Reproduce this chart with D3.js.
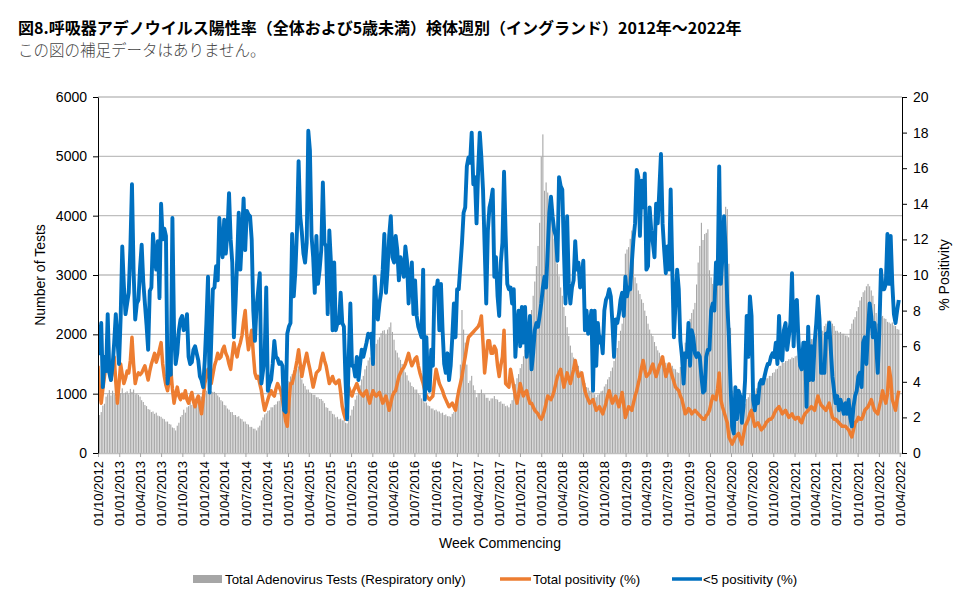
<!DOCTYPE html>
<html lang="ja">
<head>
<meta charset="UTF-8">
<title>図8</title>
<style>
  body { margin: 0; background: #fff; }
  .tick text { font-family: "Liberation Sans", Arial, sans-serif; fill: #000; }
</style>
</head>
<body>
<div id="chart"></div>
<script src="https://d3js.org/d3.v7.min.js"></script>
<script>
// weekly data starting week commencing 01/10/2012
const weekStart = new Date(Date.UTC(2012, 9, 1));

// Total Adenovirus Tests (Respiratory only), one row per quarter (13 weeks)
const testsTotal = [
  560, 640, 690, 800, 830, 950, 990, 1060, 970, 1050, 990, 940, 990,
  1060, 1010, 1090, 1000, 1020, 1040, 990, 1080, 1030, 1070, 990, 1000, 980,
  950, 890, 860, 810, 790, 740, 730, 690, 700, 660, 680, 630, 620,
  610, 580, 570, 530, 530, 490, 480, 430, 420, 380, 460, 510, 610,
  640, 730, 680, 770, 790, 850, 810, 870, 870, 910, 920, 960, 950,
  990, 1000, 1050, 1020, 1070, 1040, 1030, 1030, 1010, 970, 940, 890, 870,
  810, 800, 750, 730, 690, 690, 640, 640, 610, 620, 580, 570, 530,
  530, 490, 480, 440, 440, 410, 410, 380, 430, 460, 550, 600, 650,
  670, 710, 720, 770, 770, 810, 820, 870, 880, 930, 940, 1010, 1090,
  1160, 1210, 1290, 1330, 1390, 1440, 1410, 1460, 1320, 1240, 1170, 1130, 1070,
  1070, 1020, 1010, 980, 980, 940, 940, 910, 910, 880, 840, 770, 760,
  710, 710, 660, 650, 600, 610, 570, 580, 550, 550, 510, 500, 570,
  630, 730, 790, 900, 970, 1070, 1140, 1240, 1300, 1410, 1470, 1560, 1610,
  1690, 1730, 1810, 1840, 1910, 1950, 2020, 2060, 2070, 1990, 2080, 2120, 2200,
  2040, 1910, 1730, 1690, 1610, 1570, 1500, 1450, 1360, 1310, 1220, 1190, 1130,
  1110, 1070, 1070, 1000, 980, 920, 900, 850, 850, 800, 790, 750, 750,
  720, 730, 700, 700, 670, 680, 640, 650, 620, 620, 610, 660, 690,
  730, 790, 1070, 1490, 2410, 2080, 1860, 1490, 1180, 1220, 1300, 1140, 1060,
  940, 1010, 1010, 1070, 1000, 990, 930, 930, 880, 920, 920, 960, 910,
  900, 860, 870, 830, 830, 790, 800, 770, 830, 890, 1010, 1160, 1260,
  1330, 1430, 1500, 1630, 1740, 1890, 2010, 2200, 2410, 2650, 2890, 3150, 3490,
  3880, 4990, 5370, 4420, 4560, 4390, 4280, 4040, 3830, 3610, 3430, 3190, 2980,
  2790, 2650, 2460, 2310, 2120, 1970, 1810, 1690, 1610, 1580, 1500, 1470, 1390,
  1350, 1240, 1180, 1110, 1100, 1050, 1040, 990, 990, 940, 980, 990, 1040,
  1050, 1120, 1160, 1240, 1280, 1380, 1440, 1550, 1610, 1770, 1890, 2060, 2180,
  2710, 3360, 3430, 3470, 3610, 3750, 3310, 2960, 2860, 2740, 2680, 2590, 2530,
  2400, 2310, 2180, 2080, 2010, 1970, 1870, 1800, 1730, 1690, 1630, 1610, 1550,
  1520, 1490, 1500, 1460, 1470, 1420, 1410, 1360, 1350, 1450, 1610, 1710, 1860,
  2010, 2200, 2260, 2360, 2420, 2530, 2840, 3210, 3490, 3880, 3590, 3690, 3710,
  3770, 3080, 2960, 2850, 2910, 2920, 2960, 2960, 3410, 3860, 4010, 4150, 4110,
  3190, 2110, 1050, 710, 490, 530, 550, 650, 710, 790, 830, 910, 940,
  990, 990, 1040, 1050, 1090, 1100, 1150, 1160, 1210, 1210, 1260, 1260, 1300,
  1300, 1350, 1360, 1410, 1420, 1470, 1470, 1520, 1520, 1550, 1550, 1580, 1580,
  1610, 1600, 1630, 1640, 1690, 1700, 1750, 1760, 1810, 1820, 1860, 1870, 1920,
  1920, 1970, 1980, 2020, 2030, 2070, 2060, 2140, 2180, 2230, 2240, 2230, 2180,
  2140, 2060, 2060, 2030, 2040, 2010, 2010, 1980, 1980, 1950, 2090, 2180, 2250,
  2290, 2390, 2460, 2570, 2630, 2710, 2740, 2810, 2850, 2810, 2740, 2650, 2510,
  2360, 2180, 2260, 2290, 2310, 2270, 2260, 2210, 2200, 2180, 2200, 2150, 2140,
  2090, 2080
];

// Total positivity (%)
const positivityAll = [
  4.9, 3.4, 2.8, 3.6, 4.3, 5.1, 5.8, 4.6, 4.1, 4.8, 5.4, 4.0, 2.8,
  3.9, 5.0, 4.4, 3.9, 4.2, 4.6, 4.5, 5.2, 6.5, 5.0, 3.9, 4.3, 4.5,
  4.4, 4.5, 4.7, 4.9, 4.5, 4.1, 4.6, 5.0, 5.3, 5.6, 5.1, 5.4, 5.8,
  6.2, 5.0, 4.3, 3.8, 3.5, 4.1, 4.7, 3.6, 2.8, 3.3, 3.7, 3.2, 3.0,
  3.3, 3.1, 3.5, 3.0, 2.8, 3.1, 3.4, 2.9, 2.6, 3.0, 3.2, 2.7, 2.2,
  3.0, 3.9, 4.3, 4.7, 4.2, 3.9, 4.4, 4.9, 5.2, 5.6, 5.3, 5.4, 5.8,
  6.0, 5.6, 5.4, 5.0, 4.7, 5.5, 6.2, 5.7, 5.4, 5.9, 6.2, 6.6, 7.4,
  8.0, 6.6, 5.8, 6.3, 6.9, 5.6, 4.5, 4.2, 4.3, 3.9, 3.5, 2.9, 2.4,
  2.7, 3.0, 3.3, 3.5, 3.3, 3.2, 3.6, 3.9, 3.7, 3.5, 3.0, 2.4, 1.8,
  1.5, 2.8, 3.9, 3.9, 4.3, 4.7, 5.2, 5.8, 5.0, 4.3, 4.8, 5.2, 5.6,
  5.1, 4.7, 4.2, 3.7, 4.1, 4.5, 4.6, 4.7, 5.2, 5.6, 5.2, 4.9, 4.4,
  3.9, 4.1, 4.3, 4.0, 3.9, 4.0, 4.1, 3.4, 2.6, 2.2, 1.9, 2.9, 3.7,
  3.4, 3.2, 3.5, 3.7, 3.9, 3.6, 3.4, 3.3, 3.2, 3.4, 3.5, 3.1, 2.8,
  3.2, 3.5, 3.3, 3.2, 3.3, 3.4, 3.1, 2.8, 3.0, 3.2, 2.8, 2.4, 2.8,
  3.2, 3.4, 3.5, 3.9, 4.3, 4.5, 4.7, 4.8, 5.0, 5.3, 5.6, 5.2, 4.9,
  5.1, 5.3, 5.4, 4.9, 4.5, 4.2, 3.9, 3.5, 3.2, 3.1, 3.0, 3.1, 3.2,
  4.0, 4.7, 4.3, 3.9, 3.7, 3.5, 3.2, 3.0, 2.8, 2.6, 2.7, 2.8, 2.6,
  2.4, 3.0, 3.5, 3.9, 4.3, 4.9, 5.4, 6.0, 6.5, 6.6, 6.7, 6.8, 6.9,
  7.0, 7.1, 7.3, 7.7, 6.2, 4.5, 5.4, 6.3, 6.3, 5.6, 5.6, 6.0, 5.8,
  4.9, 4.3, 4.9, 5.4, 6.9, 3.9, 3.8, 3.7, 4.7, 4.2, 3.7, 3.2, 2.8,
  3.3, 3.9, 3.5, 3.2, 3.4, 3.5, 3.1, 2.8, 2.8, 2.6, 2.4, 2.3, 2.2,
  2.0, 1.9, 2.1, 2.4, 2.8, 3.2, 3.1, 3.0, 3.2, 3.5, 3.9, 4.3, 4.5,
  4.7, 4.2, 3.7, 4.1, 4.5, 4.2, 3.9, 4.3, 4.7, 5.2, 4.7, 4.3, 4.4,
  4.5, 4.0, 3.5, 3.2, 3.0, 2.8, 2.9, 3.0, 2.7, 2.4, 2.5, 2.6, 2.4,
  2.2, 2.5, 2.8, 3.2, 3.5, 3.1, 2.8, 3.0, 3.2, 2.9, 2.6, 3.0, 3.4,
  2.7, 2.0, 2.3, 2.6, 2.5, 2.4, 2.8, 3.2, 3.5, 3.9, 4.3, 4.8, 5.2,
  4.7, 4.3, 4.4, 4.5, 4.8, 5.0, 4.6, 4.3, 4.6, 4.9, 5.1, 5.4, 4.8,
  4.3, 4.6, 5.0, 4.6, 4.3, 4.0, 3.7, 3.6, 3.5, 3.2, 3.0, 2.6, 2.2,
  2.3, 2.5, 2.4, 2.2, 2.3, 2.4, 2.3, 2.2, 2.1, 2.0, 1.9, 1.9, 2.1,
  2.2, 2.4, 2.8, 3.2, 3.1, 3.0, 3.6, 4.5, 3.0, 2.6, 2.3, 2.0, 1.7,
  0.9, 0.7, 0.5, 0.7, 0.9, 1.0, 1.1, 0.8, 0.5, 1.0, 1.5, 1.7, 1.9,
  2.2, 2.4, 1.9, 1.5, 1.6, 1.7, 1.5, 1.3, 1.4, 1.5, 1.7, 1.8, 1.9,
  1.9, 2.0, 2.2, 2.4, 2.5, 2.6, 2.4, 2.2, 2.3, 2.4, 2.2, 2.0, 2.1,
  2.2, 2.0, 1.9, 2.0, 2.0, 1.8, 1.7, 2.0, 2.2, 2.3, 2.4, 2.5, 2.6,
  2.5, 2.4, 2.8, 3.2, 2.9, 2.7, 2.6, 2.5, 2.4, 2.6, 2.8, 2.4, 2.0,
  1.9, 1.9, 1.8, 1.7, 1.6, 1.5, 1.5, 1.5, 1.4, 1.3, 1.1, 0.9, 1.3,
  1.7, 1.8, 2.0, 1.9, 1.9, 2.1, 2.4, 2.5, 2.6, 2.8, 3.0, 2.7, 2.4,
  2.3, 2.2, 2.6, 3.0, 3.5, 3.1, 2.8, 3.3, 4.8, 4.2, 3.0, 2.7, 2.4,
  3.0, 3.5
];

// <5 positivity (%)
const positivityUnder5 = [
  7.2, 5.6, 7.3, 3.7, 5.4, 4.6, 7.8, 4.5, 4.1, 4.9, 6.2, 7.8, 6.4,
  5.0, 7.6, 11.6, 9.4, 7.8, 8.4, 9.0, 11.5, 15.1, 10.2, 7.5, 8.4, 8.6,
  10.4, 11.7, 9.6, 8.4, 7.2, 5.8, 9.1, 9.3, 12.3, 11.0, 10.3, 11.9, 8.7,
  14.0, 12.0, 12.6, 12.2, 3.9, 4.8, 4.4, 13.2, 6.9, 5.0, 5.6, 6.9, 7.5,
  7.7, 6.9, 7.1, 7.8, 5.4, 5.0, 5.1, 5.8, 6.0, 5.6, 5.2, 4.3, 4.1,
  3.7, 5.2, 7.3, 9.9, 3.4, 6.3, 9.2, 9.3, 10.5, 9.7, 13.2, 11.7, 11.0,
  13.1, 11.2, 12.4, 14.6, 12.0, 10.7, 6.5, 8.4, 10.8, 13.5, 10.3, 12.1, 14.3,
  11.4, 13.6, 13.4, 13.3, 12.0, 8.0, 6.3, 8.2, 9.1, 10.1, 3.9, 4.6, 5.4,
  9.3, 3.5, 3.9, 4.1, 5.0, 6.3, 5.4, 5.3, 5.0, 5.1, 4.9, 2.4, 2.3,
  6.7, 7.1, 7.3, 12.3, 8.8, 10.2, 12.5, 16.4, 13.3, 12.4, 11.2, 10.7, 11.8,
  18.1, 17.0, 12.2, 11.0, 9.0, 12.2, 9.5, 10.3, 11.4, 15.2, 11.8, 11.6, 7.8,
  12.5, 10.7, 6.9, 10.7, 6.9, 7.3, 7.3, 9.0, 7.3, 7.1, 4.1, 1.9, 5.4,
  8.4, 4.9, 4.9, 4.3, 5.4, 4.1, 5.0, 5.8, 5.4, 5.8, 6.2, 6.7, 6.5,
  6.7, 5.0, 9.9, 8.4, 7.5, 8.4, 9.0, 10.3, 12.3, 9.0, 10.3, 12.2, 13.3,
  11.0, 10.7, 12.2, 11.4, 9.7, 11.0, 10.5, 9.9, 11.6, 10.8, 8.4, 9.9, 10.7,
  7.8, 9.7, 7.7, 7.1, 6.8, 6.5, 10.3, 3.0, 6.5, 3.7, 3.5, 5.8, 4.9,
  9.3, 9.0, 9.7, 6.9, 9.5, 6.9, 5.0, 4.5, 5.6, 4.1, 4.9, 6.5, 8.4,
  6.5, 9.2, 9.2, 10.5, 11.8, 13.5, 13.8, 16.1, 16.6, 16.3, 18.0, 15.1, 15.5,
  12.9, 15.9, 18.0, 16.6, 14.8, 11.6, 8.4, 12.5, 13.8, 14.2, 14.8, 9.9, 11.0,
  8.8, 7.7, 10.7, 11.8, 15.8, 12.2, 9.5, 9.2, 9.3, 8.4, 9.2, 5.4, 7.1,
  8.0, 6.0, 8.2, 6.2, 8.2, 5.4, 6.4, 7.7, 4.7, 5.6, 6.9, 7.3, 7.1,
  7.7, 8.4, 9.3, 9.9, 9.3, 11.4, 13.5, 14.4, 13.3, 12.5, 12.2, 10.8, 15.5,
  15.0, 14.8, 11.4, 8.4, 13.3, 9.5, 8.4, 9.3, 9.7, 11.9, 10.3, 10.7, 9.3,
  9.9, 10.8, 6.9, 8.0, 6.7, 7.2, 8.0, 3.5, 8.0, 4.9, 7.3, 6.2, 6.5,
  5.6, 8.0, 8.6, 8.8, 9.2, 8.8, 7.3, 5.4, 7.5, 7.3, 7.8, 8.6, 9.0,
  7.7, 9.9, 8.8, 9.3, 9.2, 10.7, 12.0, 12.9, 15.9, 15.5, 12.2, 15.3, 13.8,
  15.7, 10.3, 10.5, 13.8, 12.5, 11.8, 11.0, 14.0, 12.9, 14.8, 16.8, 12.9, 11.4,
  10.1, 11.6, 10.3, 14.8, 10.3, 6.5, 8.4, 10.3, 9.2, 6.3, 5.4, 3.9, 5.6,
  5.4, 7.3, 4.9, 6.9, 6.5, 5.6, 5.4, 5.6, 5.4, 4.3, 3.4, 3.5, 5.4,
  5.8, 5.8, 8.0, 8.4, 8.0, 10.7, 9.5, 16.1, 9.5, 11.0, 13.3, 11.4, 8.4,
  6.5, 3.9, 1.5, 1.1, 3.7, 1.9, 3.5, 3.2, 1.7, 2.6, 4.1, 7.7, 5.4,
  8.8, 7.7, 3.0, 2.4, 3.2, 2.8, 3.9, 4.1, 3.9, 4.3, 4.7, 5.0, 5.0,
  5.4, 5.6, 5.4, 6.2, 5.0, 7.7, 5.4, 5.2, 6.9, 7.3, 5.8, 6.5, 7.3,
  10.1, 6.0, 8.4, 8.6, 6.3, 4.9, 4.7, 6.2, 6.2, 2.6, 7.1, 4.1, 6.0,
  4.1, 6.2, 7.3, 8.8, 7.5, 4.5, 4.5, 4.5, 6.7, 6.5, 7.3, 5.8, 4.3,
  3.5, 2.8, 3.2, 2.4, 3.0, 2.6, 2.2, 2.8, 2.2, 3.0, 2.0, 1.5, 2.6,
  3.2, 3.5, 4.3, 4.5, 3.7, 6.2, 6.5, 5.0, 6.9, 8.4, 7.7, 6.5, 7.3,
  6.2, 4.5, 6.9, 10.3, 9.2, 9.2, 9.5, 12.3, 9.5, 12.2, 9.5, 7.8, 7.3,
  8.0, 8.6
];

const testTicks = [0, 1000, 2000, 3000, 4000, 5000, 6000];
const pctTicks = [0, 2, 4, 6, 8, 10, 12, 14, 16, 18, 20];
const legendLabels = ["Total Adenovirus Tests (Respiratory only)", "Total positivity (%)", "<5 positivity (%)"];

const W = 977, H = 600;
const margin = {top: 97, right: 75, bottom: 147, left: 98};
const width = W - margin.left - margin.right;
const height = H - margin.top - margin.bottom;
const latin = '"Liberation Sans", Arial, sans-serif';
const cjk = '"Noto Sans CJK JP", sans-serif';

const weeks = testsTotal.map((v, i) => ({
  date: d3.utcDay.offset(weekStart, 7 * i),
  tests: v,
  all: positivityAll[i],
  under5: positivityUnder5[i]
}));

const svg = d3.select("#chart").append("svg")
  .attr("width", W)
  .attr("height", H);

svg.append("text")
  .attr("x", 18).attr("y", 34)
  .attr("font-family", cjk).attr("font-weight", 700).attr("font-size", 16)
  .text("図8.呼吸器アデノウイルス陽性率（全体および5歳未満）検体週別（イングランド）2012年～2022年");

svg.append("text")
  .attr("x", 18).attr("y", 56)
  .attr("font-family", cjk).attr("font-weight", 300).attr("font-size", 15.5)
  .attr("fill", "#444")
  .text("この図の補足データはありません。");

const g = svg.append("g").attr("transform", `translate(${margin.left},${margin.top})`);

const x = d3.scaleUtc()
  .domain([weekStart, new Date(Date.UTC(2022, 3, 11))])
  .range([0, width]);
const yTests = d3.scaleLinear().domain([0, 6000]).range([height, 0]);
const yPct = d3.scaleLinear().domain([0, 20]).range([height, 0]);

// gridlines
g.selectAll(".grid").data(testTicks.slice(1)).join("line")
  .attr("class", "grid")
  .attr("x1", 0).attr("x2", width)
  .attr("y1", d => yTests(d)).attr("y2", d => yTests(d))
  .attr("stroke", "#bfbfbf").attr("stroke-width", 1.4);

g.append("clipPath").attr("id", "plot")
  .append("rect").attr("width", width).attr("height", height + 1);

const plot = g.append("g").attr("clip-path", "url(#plot)");

plot.selectAll(".bar").data(weeks).join("rect")
  .attr("class", "bar")
  .attr("x", d => x(d.date) - 0.55)
  .attr("width", 1.1)
  .attr("y", d => yTests(d.tests))
  .attr("height", d => height - yTests(d.tests))
  .attr("fill", "#a6a6a6");

plot.append("path").datum(weeks)
  .attr("fill", "none").attr("stroke", "#ed7d31").attr("stroke-width", 3.5)
  .attr("stroke-linejoin", "round")
  .attr("d", d3.line().x(d => x(d.date)).y(d => yPct(d.all)));

plot.append("path").datum(weeks)
  .attr("fill", "none").attr("stroke", "#0070c0").attr("stroke-width", 3.9)
  .attr("stroke-linejoin", "round")
  .attr("d", d3.line().x(d => x(d.date)).y(d => yPct(d.under5)));

// axes
const xTicks = d3.utcMonth.range(weekStart, new Date(Date.UTC(2022, 3, 2)), 3);

const xAxis = g.append("g")
  .attr("transform", `translate(0,${height})`)
  .call(d3.axisBottom(x).tickValues(xTicks).tickSize(4).tickSizeOuter(0)
    .tickFormat(d3.utcFormat("%d/%m/%Y")));
xAxis.select(".domain").attr("stroke", "#bfbfbf").attr("stroke-width", 1.4);
xAxis.selectAll(".tick line").attr("stroke", "#a6a6a6");
xAxis.selectAll(".tick text")
  .attr("font-size", 13)
  .attr("transform", "rotate(-90)")
  .attr("text-anchor", "end")
  .attr("x", -8).attr("y", 0).attr("dy", "0.35em");

const leftAxis = g.append("g")
  .call(d3.axisLeft(yTests).tickValues(testTicks).tickFormat(d3.format("d"))
    .tickSize(5).tickSizeOuter(0).tickPadding(6));
leftAxis.selectAll(".tick text").attr("font-size", 14);

const rightAxis = g.append("g")
  .attr("transform", `translate(${width},0)`)
  .call(d3.axisRight(yPct).tickValues(pctTicks).tickSize(5).tickSizeOuter(0).tickPadding(6));
rightAxis.selectAll(".tick text").attr("font-size", 14);

g.append("text")
  .attr("transform", `translate(${-53},${height / 2}) rotate(-90)`)
  .attr("text-anchor", "middle")
  .attr("font-family", latin).attr("font-size", 14)
  .text("Number of Tests");

g.append("text")
  .attr("transform", `translate(${width + 47},${height / 2}) rotate(-90)`)
  .attr("text-anchor", "middle")
  .attr("font-family", latin).attr("font-size", 14)
  .text("% Positivity");

g.append("text")
  .attr("x", width / 2).attr("y", height + 95)
  .attr("text-anchor", "middle")
  .attr("font-family", latin).attr("font-size", 14)
  .text("Week Commencing");

// legend
const legend = svg.append("g").attr("font-family", latin).attr("font-size", 13.3);
const legendX = [193, 500, 672];
const legendY = 579;
legend.append("rect")
  .attr("x", legendX[0]).attr("y", legendY - 4).attr("width", 29).attr("height", 8)
  .attr("fill", "#a6a6a6");
legend.append("line")
  .attr("x1", legendX[1]).attr("x2", legendX[1] + 31).attr("y1", legendY).attr("y2", legendY)
  .attr("stroke", "#ed7d31").attr("stroke-width", 3.5);
legend.append("line")
  .attr("x1", legendX[2]).attr("x2", legendX[2] + 30).attr("y1", legendY).attr("y2", legendY)
  .attr("stroke", "#0070c0").attr("stroke-width", 3.5);
legend.selectAll(".lab").data(legendLabels).join("text")
  .attr("class", "lab")
  .attr("x", (d, i) => legendX[i] + [32, 33, 31][i])
  .attr("y", legendY)
  .attr("dy", "0.35em")
  .text(d => d);
</script>
</body>
</html>
